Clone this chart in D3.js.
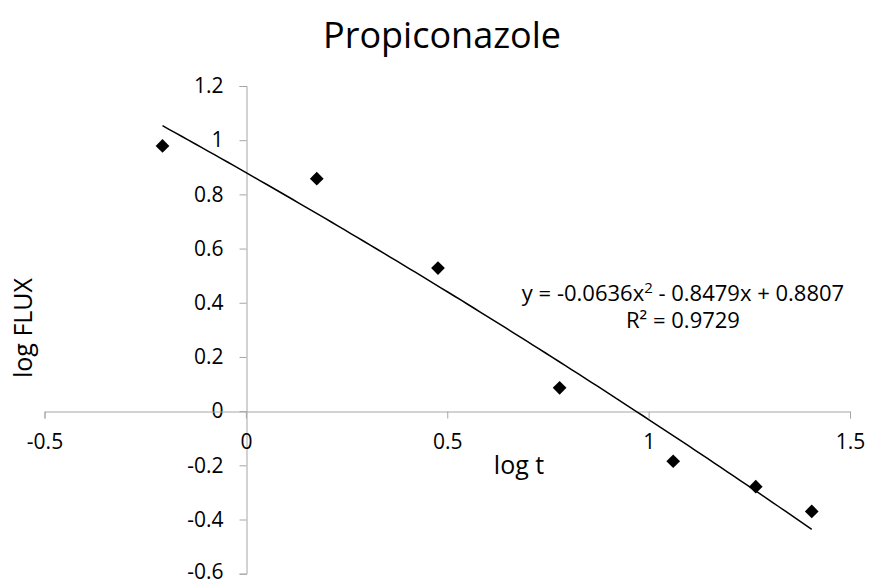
<!DOCTYPE html>
<html>
<head>
<meta charset="utf-8">
<script src="https://cdn.jsdelivr.net/npm/d3@7"></script>
<style>
  html, body { margin: 0; padding: 0; background: #fff; }
  svg { display: block; font-family: "Open Sans", "Noto Sans", sans-serif; }
</style>
</head>
<body>
<svg id="chart" width="885" height="585"></svg>
<script>
// Measured points: log t vs log FLUX
const logT = [-0.207, 0.176, 0.477, 0.779, 1.061, 1.266, 1.405];
const logFlux = [0.979, 0.858, 0.528, 0.086, -0.185, -0.279, -0.370];

// Quadratic trendline coefficients (a x^2 + b x + c) and fit quality
const trendCoef = [-0.0636, -0.8479, 0.8807];
const rSquared = 0.9729;

const xTicks = [-0.5, 0, 0.5, 1, 1.5];
const yTicks = [-0.6, -0.4, -0.2, 0, 0.2, 0.4, 0.6, 0.8, 1, 1.2];

const titleText = "Propiconazole";
const xLabel = "log t";
const yLabel = "log FLUX";

const svg = d3.select("#chart");
const axisColor = "#a6a6a6";

const x = d3.scaleLinear().domain([-0.5, 1.5]).range([44.5, 850]);
const y = d3.scaleLinear().domain([-0.6, 1.2]).range([573.7, 86]);

const fmt = d => (d === 0 ? "0" : String(d));

// Title
svg.append("text")
  .attr("x", 442).attr("y", 48)
  .attr("text-anchor", "middle")
  .attr("font-size", 36)
  .attr("fill", "#000")
  .text(titleText);

// Vertical axis through x = 0
const yAxis = d3.axisLeft(y).tickValues(yTicks).tickFormat(fmt).tickSize(7).tickPadding(16);
const gy = svg.append("g").attr("transform", `translate(${Math.round(x(0)) + 0.5},0)`).call(yAxis);
gy.select(".domain").attr("stroke", axisColor);
gy.selectAll(".tick line").attr("stroke", axisColor);
gy.selectAll(".tick text").attr("font-size", 21).attr("fill", "#000")
  .attr("font-family", "\"Open Sans\", sans-serif");
// keep the lowest label clear of the bottom edge
gy.selectAll(".tick text").filter(d => d === yTicks[0]).attr("dy", "0.22em");

// Horizontal axis through y = 0
const xAxis = d3.axisBottom(x).tickValues(xTicks).tickFormat(fmt).tickSize(7).tickPadding(16);
const gx = svg.append("g").attr("transform", `translate(0,${Math.round(y(0)) + 0.5})`).call(xAxis);
gx.select(".domain").attr("stroke", axisColor);
gx.selectAll(".tick line").attr("stroke", axisColor);
gx.selectAll(".tick text").attr("font-size", 21).attr("fill", "#000")
  .attr("font-family", "\"Open Sans\", sans-serif");

// Trendline across the range of the data
const poly = t => trendCoef[0] * t * t + trendCoef[1] * t + trendCoef[2];
const [t0, t1] = d3.extent(logT);
const curvePts = d3.range(0, 101).map(i => {
  const t = t0 + (t1 - t0) * i / 100;
  return [t, poly(t)];
});
svg.append("path")
  .datum(curvePts)
  .attr("fill", "none")
  .attr("stroke", "#000")
  .attr("stroke-width", 1.5)
  .attr("d", d3.line().x(d => x(d[0])).y(d => y(d[1])));

// Diamond markers
const diamond = d3.symbol().type(d3.symbolDiamond2 || d3.symbolSquare2).size(120);
svg.append("g").selectAll("path")
  .data(logT.map((t, i) => [t, logFlux[i]]))
  .join("path")
  .attr("transform", d => `translate(${x(d[0])},${y(d[1])})${d3.symbolDiamond2 ? "" : " rotate(45)"}`)
  .attr("d", diamond)
  .attr("fill", "#000");

// Axis titles
svg.append("text")
  .attr("x", 519).attr("y", 474)
  .attr("text-anchor", "middle")
  .attr("font-size", 25)
  .text(xLabel);

svg.append("text")
  .attr("transform", "translate(32,328) rotate(-90)")
  .attr("text-anchor", "middle")
  .attr("font-size", 25)
  .text(yLabel);

// Trendline equation and R²
const eq = svg.append("text")
  .attr("x", 683).attr("y", 301)
  .attr("text-anchor", "middle")
  .attr("font-size", 22);
const f4 = v => Math.abs(v).toFixed(4);
eq.append("tspan").text(`y = ${trendCoef[0] < 0 ? "-" : ""}${f4(trendCoef[0])}x`);
eq.append("tspan").attr("dy", -8).attr("font-size", 15).text("2");
eq.append("tspan").attr("dy", 8)
  .text(` ${trendCoef[1] < 0 ? "-" : "+"} ${f4(trendCoef[1])}x ${trendCoef[2] < 0 ? "-" : "+"} ${f4(trendCoef[2])}`);

svg.append("text")
  .attr("x", 683).attr("y", 328)
  .attr("text-anchor", "middle")
  .attr("font-size", 22)
  .text(`R² = ${rSquared.toFixed(4)}`);
</script>
</body>
</html>
